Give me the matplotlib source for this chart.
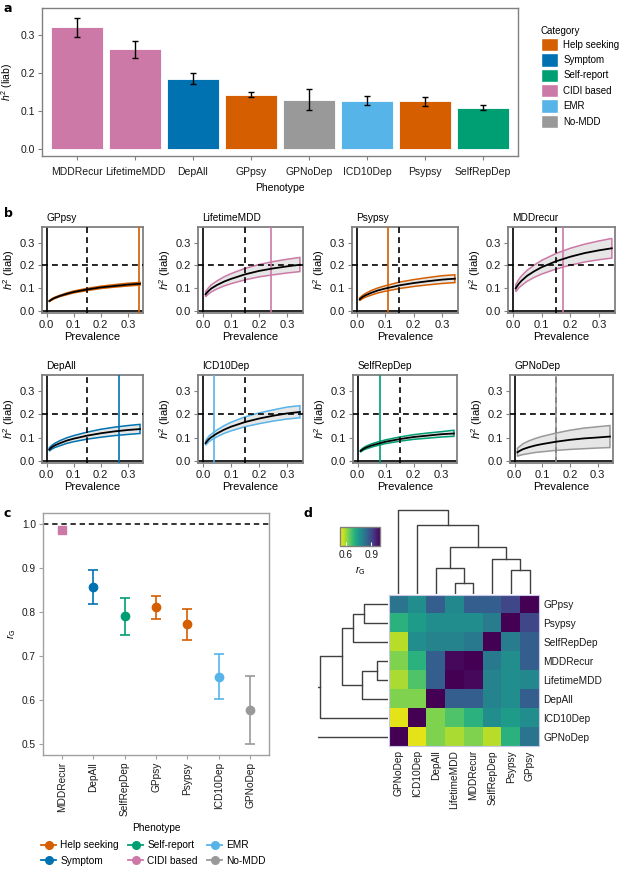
import numpy as np
import matplotlib
matplotlib.use("Agg")
import matplotlib.pyplot as plt
from matplotlib.patches import Patch
from matplotlib.lines import Line2D

plt.rcParams['font.family'] = ['Liberation Sans', 'DejaVu Sans']
plt.rcParams['mathtext.fontset'] = 'custom'
plt.rcParams['mathtext.rm'] = 'Liberation Sans'
plt.rcParams['mathtext.it'] = 'Liberation Sans:italic'
plt.rcParams['font.size'] = 7
plt.rcParams['axes.linewidth'] = 1.0

# ---------------- data ----------------
cat_names = ["Help seeking", "Symptom", "Self-report", "CIDI based", "EMR", "No-MDD"]
cat_colors = ["#D55E00", "#0072B2", "#009E73", "#CC79A7", "#56B4E9", "#999999"]
cat_color = dict(zip(cat_names, cat_colors))
pheno_cat = {"MDDRecur": "CIDI based", "LifetimeMDD": "CIDI based", "DepAll": "Symptom",
             "GPpsy": "Help seeking", "GPNoDep": "No-MDD", "ICD10Dep": "EMR",
             "Psypsy": "Help seeking", "SelfRepDep": "Self-report"}

# panel a: liability-scale heritability
a_pheno = ["MDDRecur", "LifetimeMDD", "DepAll", "GPpsy", "GPNoDep", "ICD10Dep", "Psypsy", "SelfRepDep"]
a_h2 = np.array([0.320, 0.262, 0.185, 0.143, 0.130, 0.126, 0.125, 0.109])
a_lo = np.array([0.295, 0.240, 0.170, 0.136, 0.102, 0.115, 0.113, 0.103])
a_hi = np.array([0.345, 0.284, 0.200, 0.151, 0.158, 0.138, 0.137, 0.116])

# panel b: h2 vs prevalence
b_titles = ["GPpsy", "LifetimeMDD", "Psypsy", "MDDrecur", "DepAll", "ICD10Dep", "SelfRepDep", "GPNoDep"]
b_cats = ["Help seeking", "CIDI based", "Help seeking", "CIDI based", "Symptom", "EMR", "Self-report", "No-MDD"]
b_prev = [0.01, 0.02, 0.03, 0.05, 0.075, 0.1, 0.15, 0.2, 0.25, 0.3, 0.345]
b_pop_prev = [0.15, 0.15, 0.15, 0.15, 0.15, 0.15, 0.15, 0.15]
b_sample_prev = [0.342, 0.244, 0.108, 0.175, 0.266, 0.040, 0.080, 0.148]
b_mid = [
    [0.044, 0.052, 0.058, 0.067, 0.076, 0.084, 0.095, 0.104, 0.110, 0.116, 0.120],
    [0.074, 0.088, 0.099, 0.114, 0.129, 0.141, 0.161, 0.176, 0.187, 0.196, 0.203],
    [0.052, 0.062, 0.069, 0.080, 0.091, 0.099, 0.113, 0.123, 0.131, 0.138, 0.142],
    [0.100, 0.119, 0.133, 0.155, 0.175, 0.192, 0.218, 0.238, 0.254, 0.266, 0.275],
    [0.050, 0.060, 0.067, 0.077, 0.088, 0.096, 0.109, 0.119, 0.127, 0.133, 0.137],
    [0.077, 0.092, 0.102, 0.118, 0.134, 0.147, 0.167, 0.182, 0.194, 0.204, 0.210],
    [0.043, 0.052, 0.058, 0.067, 0.075, 0.083, 0.094, 0.103, 0.109, 0.115, 0.118],
    [0.038, 0.045, 0.051, 0.059, 0.067, 0.073, 0.083, 0.091, 0.097, 0.101, 0.105],
]
b_upper = [
    [0.046, 0.055, 0.061, 0.070, 0.080, 0.088, 0.100, 0.109, 0.116, 0.122, 0.126],
    [0.086, 0.102, 0.115, 0.132, 0.150, 0.164, 0.187, 0.204, 0.217, 0.227, 0.235],
    [0.058, 0.069, 0.077, 0.090, 0.102, 0.111, 0.127, 0.138, 0.147, 0.155, 0.159],
    [0.116, 0.138, 0.154, 0.179, 0.202, 0.222, 0.252, 0.275, 0.293, 0.307, 0.318],
    [0.057, 0.068, 0.076, 0.088, 0.100, 0.109, 0.124, 0.136, 0.145, 0.152, 0.157],
    [0.087, 0.104, 0.115, 0.133, 0.151, 0.166, 0.189, 0.206, 0.219, 0.231, 0.237],
    [0.047, 0.057, 0.064, 0.074, 0.083, 0.091, 0.103, 0.113, 0.120, 0.126, 0.132],
    [0.055, 0.065, 0.074, 0.086, 0.097, 0.106, 0.120, 0.132, 0.141, 0.147, 0.152],
]
b_lower = [
    [0.042, 0.049, 0.055, 0.064, 0.072, 0.080, 0.090, 0.099, 0.105, 0.110, 0.114],
    [0.063, 0.075, 0.084, 0.097, 0.110, 0.120, 0.137, 0.150, 0.159, 0.167, 0.173],
    [0.046, 0.055, 0.061, 0.070, 0.080, 0.087, 0.099, 0.108, 0.115, 0.121, 0.125],
    [0.085, 0.101, 0.112, 0.131, 0.148, 0.162, 0.184, 0.201, 0.215, 0.225, 0.232],
    [0.043, 0.052, 0.058, 0.066, 0.076, 0.083, 0.094, 0.102, 0.109, 0.114, 0.118],
    [0.068, 0.081, 0.090, 0.104, 0.118, 0.129, 0.147, 0.160, 0.171, 0.180, 0.185],
    [0.039, 0.047, 0.052, 0.060, 0.068, 0.075, 0.085, 0.093, 0.098, 0.103, 0.106],
    [0.021, 0.025, 0.028, 0.032, 0.037, 0.040, 0.046, 0.050, 0.053, 0.056, 0.058],
]

# panel c: genetic correlation with MDDRecur
c_pheno = ["MDDRecur", "DepAll", "SelfRepDep", "GPpsy", "Psypsy", "ICD10Dep", "GPNoDep"]
c_rg = [0.987, 0.858, 0.790, 0.811, 0.773, 0.653, 0.577]
c_lo = [None, 0.819, 0.748, 0.785, 0.737, 0.601, 0.500]
c_hi = [None, 0.897, 0.833, 0.837, 0.808, 0.705, 0.655]

# panel d: rG matrix, leaf order of the clustering
d_order = ["GPNoDep", "ICD10Dep", "DepAll", "LifetimeMDD", "MDDRecur", "SelfRepDep", "Psypsy", "GPpsy"]
d_rg = np.array([
    [1.00, 0.55, 0.62, 0.59, 0.62, 0.58, 0.70, 0.82],
    [0.55, 1.00, 0.62, 0.66, 0.70, 0.77, 0.74, 0.77],
    [0.62, 0.62, 1.00, 0.86, 0.86, 0.79, 0.77, 0.86],
    [0.59, 0.66, 0.86, 1.00, 0.99, 0.79, 0.77, 0.78],
    [0.62, 0.70, 0.86, 0.99, 1.00, 0.81, 0.77, 0.86],
    [0.58, 0.77, 0.79, 0.79, 0.81, 1.00, 0.80, 0.86],
    [0.70, 0.74, 0.77, 0.77, 0.77, 0.80, 1.00, 0.90],
    [0.82, 0.77, 0.86, 0.78, 0.86, 0.86, 0.90, 1.00],
])
# merges (left node, right node, height); nodes >= 8 are earlier merges
d_merges = [(3, 4, 33), (6, 7, 72), (2, 8, 78), (5, 9, 105), (10, 11, 138), (1, 12, 205), (0, 13, 248)]

# ---------------- layout helpers ----------------
W, H = 622, 874
fig = plt.figure(figsize=(W / 100, H / 100), dpi=100)


def rect(l, t, r, b):
    return [l / W, 1 - b / H, (r - l) / W, (b - t) / H]


def style_box(ax, col='#808080', size=7):
    for sp in ax.spines.values():
        sp.set_color(col)
    ax.tick_params(color=col, length=3, width=0.8, labelcolor='#1a1a1a', pad=2, labelsize=size)


def panel_label(x, y, s):
    fig.text(x / W, 1 - y / H, s, fontsize=9, fontweight='bold', va='top', ha='left',
             family='DejaVu Sans')


# ---------------- panel a ----------------
ax = fig.add_axes(rect(42, 8, 518, 156))
xa = np.arange(len(a_pheno))
ax.bar(xa, a_h2, width=0.9, color=[cat_color[pheno_cat[p]] for p in a_pheno],
       edgecolor='white', linewidth=0.6)
ax.errorbar(xa, a_h2, yerr=[a_h2 - a_lo, a_hi - a_h2], fmt='none', ecolor='black',
            elinewidth=1, capsize=2.5, capthick=1)
ax.set_xlim(-0.6, 7.6)
ax.set_ylim(-0.018, 0.37)
ax.set_xticks(xa)
ax.set_xticklabels(a_pheno)
ax.set_yticks([0.0, 0.1, 0.2, 0.3])
ax.set_yticklabels(["0.0", "0.1", "0.2", "0.3"])
style_box(ax, size=7.5)
ax.tick_params(axis='x', pad=5)
ax.set_xlabel("Phenotype", labelpad=4, fontsize=7.5)
ax.set_ylabel(r"$h^2$ (liab)", labelpad=4, fontsize=7.5)
handles = [Patch(facecolor=c, edgecolor='white') for c in cat_colors]
fig.legend(handles, cat_names, title="Category", loc='upper left',
           bbox_to_anchor=(536 / W, 1 - 21 / H), frameon=False, handlelength=1.8,
           handleheight=1.75, labelspacing=0.2, borderpad=0, handletextpad=0.5,
           alignment='left', fontsize=7, title_fontsize=7)
panel_label(4, 2, "a")

# ---------------- panel b ----------------
b_boxes = [(42, 227, 143, 313), (198, 227, 303, 313), (352, 227, 458, 313), (508, 227, 615, 313),
           (42, 375, 143, 463), (198, 375, 303, 463), (353, 375, 457, 463), (510, 375, 613, 463)]
for i, title in enumerate(b_titles):
    ax = fig.add_axes(rect(*b_boxes[i]))
    col = cat_color[b_cats[i]]
    xs = np.array(b_prev)
    ax.fill(np.r_[xs, xs[::-1]], np.r_[b_upper[i], b_lower[i][::-1]],
            facecolor='#e6e6e6', edgecolor=col, linewidth=1.1, zorder=2)
    ax.axvline(0, color='black', lw=1.2, zorder=1)
    ax.axhline(0, color='black', lw=1.2, zorder=1)
    ax.axvline(b_pop_prev[i], color='black', lw=1.2, ls=(0, (3.5, 2.5)), zorder=3)
    ax.axhline(0.2, color='black', lw=1.2, ls=(0, (3.5, 2.5)), zorder=3)
    ax.axvline(b_sample_prev[i], color=col, lw=1.2, zorder=3)
    ax.plot(xs, b_mid[i], color='black', lw=1.3, zorder=4)
    ax.set_xlim(-0.017, 0.356)
    ax.set_ylim(-0.008, 0.368)
    ax.set_xticks([0.0, 0.1, 0.2, 0.3])
    ax.set_xticklabels(["0.0", "0.1", "0.2", "0.3"])
    ax.set_yticks([0.0, 0.1, 0.2, 0.3])
    ax.set_yticklabels(["0.0", "0.1", "0.2", "0.3"])
    style_box(ax, size=8)
    ax.set_xlabel("Prevalence", labelpad=1.5, fontsize=8)
    ax.set_ylabel(r"$h^2$ (liab)", labelpad=2, fontsize=8)
    ax.text(0.04, 1.05, title, transform=ax.transAxes, ha='left', va='bottom', fontsize=7.3)
    for sp in ax.spines.values():
        sp.set_linewidth(1.3)
panel_label(4, 207, "b")

# ---------------- panel c ----------------
ax = fig.add_axes(rect(43, 513, 269, 755))
for i, p in enumerate(c_pheno):
    col = cat_color[pheno_cat[p]]
    if c_lo[i] is None:
        ax.plot(i, c_rg[i], marker='s', color=col, ms=5.5, ls='none', zorder=3)
    else:
        ax.errorbar(i, c_rg[i], yerr=[[c_rg[i] - c_lo[i]], [c_hi[i] - c_rg[i]]], fmt='o',
                    color=col, ms=6, elinewidth=1.2, capsize=3.5, capthick=1.2, zorder=3)
ax.axhline(1.0, color='black', lw=1.1, ls=(0, (3.5, 2.5)), zorder=2)
ax.set_xlim(-0.6, 6.6)
ax.set_ylim(0.474, 1.026)
ax.set_xticks(range(len(c_pheno)))
ax.set_xticklabels(c_pheno, rotation=90)
ax.set_yticks([0.5, 0.6, 0.7, 0.8, 0.9, 1.0])
style_box(ax, '#a0a0a0', size=7.3)
ax.set_xlabel("Phenotype", labelpad=5, fontsize=7.3)
ax.set_ylabel(r"$r_{\rm G}$", fontsize=7.3)
ax.yaxis.set_label_coords(-0.11, 0.5)
leg_handles = [Line2D([0], [0], color=c, marker='o', lw=1.3, ms=5.5) for c in cat_colors]
fig.legend(leg_handles, cat_names, loc='upper left', ncol=3,
           bbox_to_anchor=(36 / W, 1 - 835 / H), frameon=False, handlelength=1.5,
           handletextpad=0.4, columnspacing=0.9, labelspacing=0.55, borderpad=0, fontsize=7.3)
panel_label(4, 507, "c")

# ---------------- panel d ----------------
cmap = plt.get_cmap('viridis_r')
axh = fig.add_axes(rect(389, 595, 539, 746))
im = axh.imshow(d_rg, cmap=cmap, vmin=0.53, vmax=1.0, origin='lower',
                extent=(-0.5, 7.5, -0.5, 7.5), aspect='auto')
axh.set_xticks(range(8))
axh.set_xticklabels(d_order, rotation=90)
axh.set_yticks(range(8))
axh.set_yticklabels(d_order)
axh.yaxis.tick_right()
axh.tick_params(length=0, pad=3, labelcolor='#1a1a1a', labelsize=7.3)
for sp in axh.spines.values():
    sp.set_color('#c8c8e8')
    sp.set_linewidth(0.8)


def dendro_segments():
    pos = {k: (float(k), 0.0) for k in range(8)}
    segs = []
    for n, (a, b, h) in enumerate(d_merges):
        xa_, ha_ = pos[a]
        xb_, hb_ = pos[b]
        segs.append(([xa_, xa_, xb_, xb_], [ha_, h, h, hb_]))
        pos[8 + n] = ((xa_ + xb_) / 2, h)
    return segs


segs = dendro_segments()
axt = fig.add_axes(rect(389, 508, 539, 594))
for xs_, hs_ in segs:
    axt.plot(xs_, hs_, color='#404040', lw=1.0)
axt.set_xlim(-0.5, 7.5)
axt.set_ylim(0, 255)
axt.axis('off')

axr = fig.add_axes(rect(318, 595, 388, 746))
for xs_, hs_ in segs:
    axr.plot(hs_, xs_, color='#404040', lw=1.0)
axr.set_ylim(-0.5, 7.5)
axr.set_xlim(210, 0)
axr.axis('off')

cax = fig.add_axes(rect(340, 527, 380, 546))
cb = fig.colorbar(im, cax=cax, orientation='horizontal', ticks=[0.6, 0.9])
cb.outline.set_edgecolor('#808080')
cax.tick_params(direction='in', color='white', length=3, labelsize=7.3, pad=3, labelcolor='#1a1a1a')
cb.set_label(r"$r_{\rm G}$", labelpad=3, fontsize=7.3)
panel_label(304, 507, "d")

fig.savefig("out.png", dpi=100)
